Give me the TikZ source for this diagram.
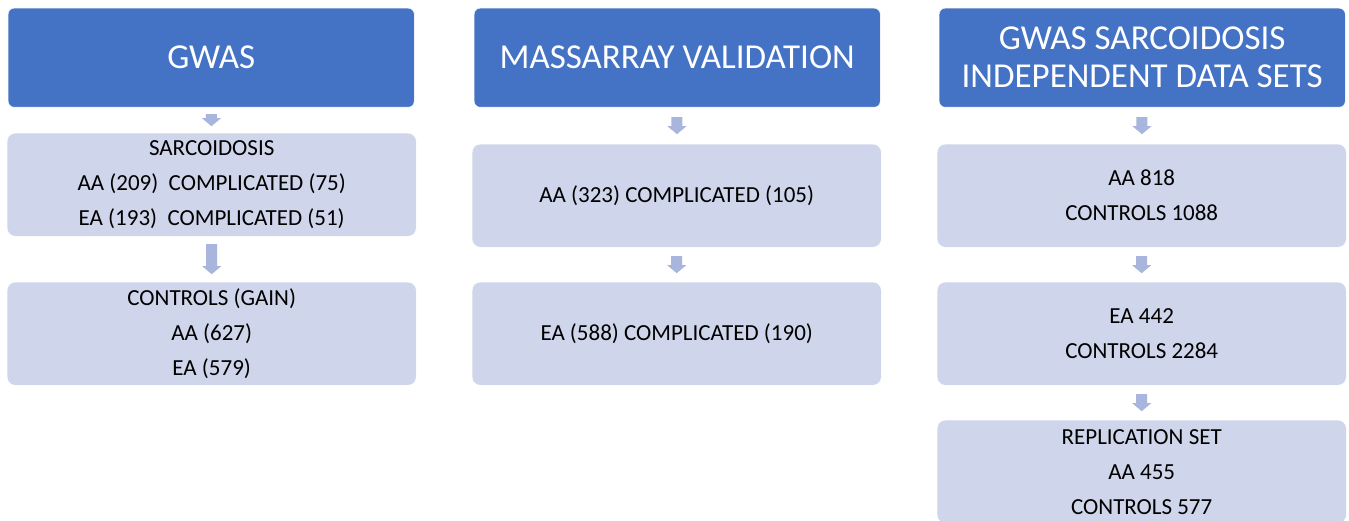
\documentclass[tikz,border=0pt]{standalone}
\usepackage{fontspec}
\setmainfont{Carlito}
\usetikzlibrary{calc}
\definecolor{hdr}{HTML}{4472C4}
\definecolor{boxc}{HTML}{CFD5EA}
\definecolor{arrowc}{HTML}{A8B6DD}
\tikzset{
  hdrbox/.style={draw=white, fill=hdr, rounded corners=6bp, text=white,
    font=\fontsize{35bp}{38bp}\selectfont, align=center, inner sep=0pt,
    anchor=north west, minimum width=406bp, minimum height=99bp},
  databox/.style={draw=white, fill=boxc, rounded corners=8bp, text=black,
    font=\fontsize{23bp}{35bp}\selectfont, align=center, inner sep=0pt,
    anchor=north west, minimum width=409bp, minimum height=103bp},
}
\newcommand{\blockarr}[3]{%
  \fill[arrowc, shift={($(#1.south)!0.5!(#2.north)$)}]
    (-5.5,-#3/2) -- (5.5,-#3/2) -- (5.5,#3/2-8) -- (9.5,#3/2-8) -- (0,#3/2)
    -- (-9.5,#3/2-8) -- (-5.5,#3/2-8) -- cycle;}
\begin{document}
\begin{tikzpicture}[x=1bp,y=-1bp]
\useasboundingbox (0,0) rectangle (1349,521);
\fill[white] (0,0) rectangle (1349,521);
\clip (0,0) rectangle (1349,521);
% column 1
\node[hdrbox] (h1) at (8,8) {GWAS};
\node[databox] (a1) at (7,133) {SARCOIDOSIS\\AA (209)\ \ COMPLICATED (75)\\EA (193)\ \ COMPLICATED (51)};
\node[databox] (a2) at (7,282) {CONTROLS (GAIN)\\AA (627)\\EA (579)};
% column 2
\node[hdrbox] (h2) at (474,8) {MASSARRAY VALIDATION};
\node[databox] (b1) at (472,144) {AA (323) COMPLICATED (105)};
\node[databox] (b2) at (472,282) {EA (588) COMPLICATED (190)};
% column 3
\node[hdrbox] (h3) at (939,8) {GWAS SARCOIDOSIS\\INDEPENDENT DATA SETS};
\node[databox] (c1) at (937,144) {AA 818\\CONTROLS 1088};
\node[databox] (c2) at (937,282) {EA 442\\CONTROLS 2284};
\node[databox] (c3) at (937,420) {REPLICATION SET\\AA 455\\CONTROLS 577};
% arrows
\blockarr{h1}{a1}{12}
\blockarr{a1}{a2}{30}
\blockarr{h2}{b1}{17}
\blockarr{b1}{b2}{17}
\blockarr{h3}{c1}{17}
\blockarr{c1}{c2}{17}
\blockarr{c2}{c3}{17}
\end{tikzpicture}
\end{document}
